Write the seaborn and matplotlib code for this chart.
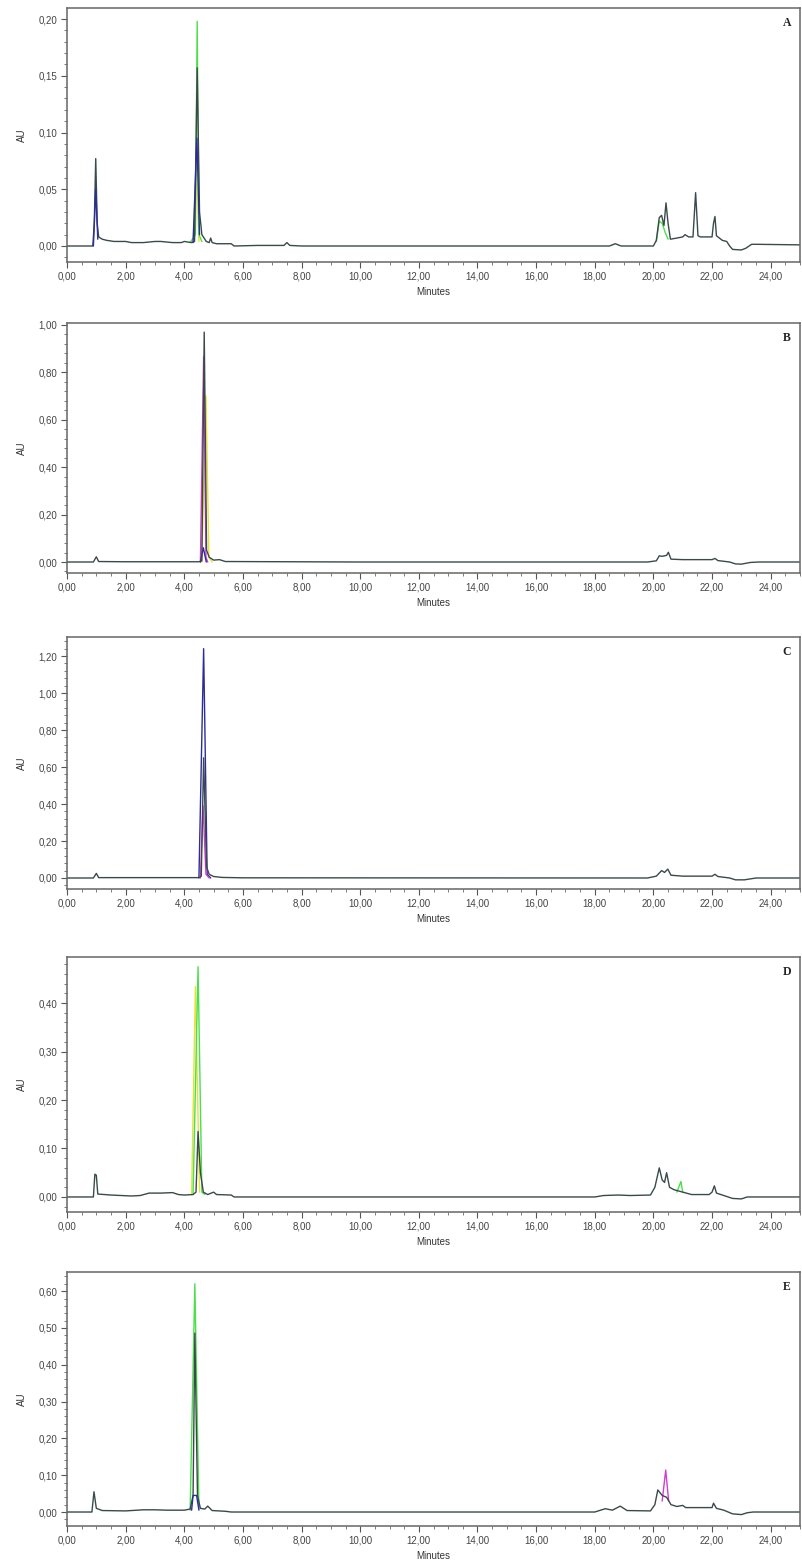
import matplotlib
matplotlib.use("Agg")
import pandas as pd
import matplotlib.pyplot as plt
import seaborn as sns
from matplotlib.ticker import MultipleLocator, AutoMinorLocator, FuncFormatter

# -------------------------
# Chromatogram traces (time in min, absorbance in AU)
# -------------------------
a_dark = [(0, 0), (0.88, 0), (0.93, 0.02), (0.98, 0.077), (1.03, 0.02), (1.08, 0.008),
          (1.2, 0.006), (1.35, 0.005), (1.6, 0.004), (2.0, 0.004), (2.2, 0.003), (2.6, 0.003),
          (3.0, 0.004), (3.2, 0.004), (3.4, 0.0035), (3.6, 0.003), (3.9, 0.003), (4.0, 0.004),
          (4.25, 0.003), (4.35, 0.004), (4.44, 0.157), (4.52, 0.03), (4.6, 0.01), (4.75, 0.004),
          (4.85, 0.003), (4.9, 0.007), (4.95, 0.003), (5.1, 0.002), (5.6, 0.002), (5.7, 0.0),
          (6.5, 0.0005), (7.4, 0.0005), (7.5, 0.003), (7.6, 0.0005), (8.0, 0.0), (18.5, 0.0),
          (18.7, 0.002), (18.9, 0.0), (20.0, 0.0), (20.1, 0.005), (20.2, 0.025), (20.28, 0.027),
          (20.36, 0.018), (20.43, 0.038), (20.5, 0.02), (20.58, 0.006), (20.8, 0.007),
          (21.0, 0.008), (21.08, 0.01), (21.2, 0.008), (21.35, 0.008), (21.44, 0.047),
          (21.52, 0.009), (21.6, 0.008), (22.0, 0.008), (22.05, 0.02), (22.1, 0.026),
          (22.15, 0.009), (22.25, 0.007), (22.35, 0.005), (22.5, 0.004), (22.6, 0.0),
          (22.7, -0.003), (23.0, -0.0035), (23.15, -0.002), (23.35, 0.0015), (23.5, 0.0015),
          (25, 0.001)]
a_green = [(4.2, 0.003), (4.38, 0.01), (4.44, 0.198), (4.5, 0.01), (4.6, 0.004)]
a_green2 = [(20.1, 0.004), (20.2, 0.022), (20.3, 0.02), (20.4, 0.012), (20.5, 0.006)]
a_yellow = [(4.3, 0.003), (4.41, 0.07), (4.5, 0.004)]
a_blue = [(4.3, 0.003), (4.43, 0.095), (4.52, 0.01)]
a_blue2 = [(0.9, 0.0), (0.98, 0.05), (1.05, 0.006)]

b_dark = [(0, 0), (0.9, 0), (1.0, 0.022), (1.08, 0.002), (2.0, 0.001), (4.5, 0.001),
          (4.6, 0.005), (4.68, 0.97), (4.76, 0.05), (4.85, 0.02), (5.0, 0.008), (5.2, 0.01),
          (5.4, 0.002), (10.0, 0.0), (19.8, 0.0), (20.1, 0.005), (20.2, 0.026), (20.3, 0.024),
          (20.45, 0.028), (20.51, 0.041), (20.6, 0.012), (21.0, 0.01), (22.0, 0.01),
          (22.1, 0.015), (22.2, 0.006), (22.6, 0.0), (22.8, -0.008), (23.0, -0.009),
          (23.3, -0.002), (23.6, 0.0), (25, 0.0)]
b_magenta = [(4.55, 0.0), (4.66, 0.866), (4.74, 0.02), (4.8, 0.0)]
b_yellow = [(4.6, 0.0), (4.74, 0.7), (4.84, 0.02), (4.95, 0.0)]
b_blue = [(4.55, 0.0), (4.65, 0.06), (4.75, 0.0)]

c_dark = [(0, 0), (0.9, 0), (1.0, 0.025), (1.08, 0.002), (4.5, 0.002), (4.58, 0.01),
          (4.66, 0.65), (4.76, 0.06), (4.85, 0.02), (5.0, 0.008), (5.3, 0.003), (6.0, 0.001),
          (19.8, 0.0), (20.1, 0.01), (20.28, 0.04), (20.38, 0.03), (20.49, 0.048),
          (20.6, 0.015), (21.0, 0.01), (22.0, 0.01), (22.1, 0.02), (22.2, 0.008), (22.6, 0.0),
          (22.8, -0.01), (23.1, -0.01), (23.5, 0.0), (25, 0.0)]
c_blue = [(4.5, 0.0), (4.66, 1.24), (4.78, 0.02), (4.9, 0.0)]
c_magenta = [(4.55, 0.0), (4.64, 0.39), (4.74, 0.02), (4.85, 0.0)]

d_dark = [(0, 0), (0.9, 0), (0.95, 0.047), (1.0, 0.045), (1.05, 0.006), (1.5, 0.004),
          (2.2, 0.002), (2.5, 0.003), (2.8, 0.008), (3.2, 0.008), (3.6, 0.009), (3.8, 0.005),
          (4.0, 0.004), (4.3, 0.005), (4.4, 0.01), (4.47, 0.135), (4.55, 0.05), (4.65, 0.01),
          (4.8, 0.005), (5.0, 0.01), (5.1, 0.005), (5.6, 0.004), (5.7, 0.0), (18.0, 0.0),
          (18.3, 0.003), (18.8, 0.004), (19.2, 0.003), (19.9, 0.004), (20.05, 0.02),
          (20.2, 0.06), (20.3, 0.035), (20.38, 0.03), (20.45, 0.05), (20.55, 0.02),
          (20.7, 0.015), (21.0, 0.01), (21.3, 0.005), (21.9, 0.005), (22.0, 0.01),
          (22.08, 0.023), (22.15, 0.008), (22.4, 0.003), (22.7, -0.003), (23.0, -0.004),
          (23.2, 0.0), (25, 0.0)]
d_green = [(4.3, 0.005), (4.47, 0.475), (4.6, 0.01), (4.7, 0.005)]
d_green2 = [(20.8, 0.01), (20.94, 0.032), (21.0, 0.01)]
d_yellow = [(4.25, 0.005), (4.38, 0.434), (4.52, 0.01)]

e_dark = [(0, 0), (0.85, 0), (0.92, 0.055), (1.0, 0.01), (1.2, 0.004), (2.0, 0.003),
          (2.6, 0.006), (3.0, 0.006), (3.4, 0.005), (4.0, 0.005), (4.2, 0.008), (4.3, 0.045),
          (4.36, 0.486), (4.45, 0.045), (4.55, 0.01), (4.7, 0.008), (4.8, 0.016),
          (4.95, 0.004), (5.4, 0.002), (5.6, 0.0), (18.0, 0.0), (18.36, 0.009), (18.6, 0.005),
          (18.87, 0.016), (19.1, 0.004), (19.9, 0.003), (20.05, 0.02), (20.15, 0.06),
          (20.3, 0.045), (20.45, 0.04), (20.6, 0.02), (20.8, 0.015), (21.0, 0.018),
          (21.1, 0.012), (22.0, 0.012), (22.05, 0.024), (22.15, 0.01), (22.4, 0.005),
          (22.7, -0.005), (23.0, -0.007), (23.2, -0.002), (23.4, 0.0), (25, 0.0)]
e_green = [(4.2, 0.005), (4.36, 0.62), (4.5, 0.01)]
e_magenta = [(20.3, 0.03), (20.42, 0.114), (20.52, 0.03)]
e_blue = [(4.25, 0.005), (4.3, 0.045), (4.42, 0.045), (4.5, 0.005)]

labels = ["A", "B", "C", "D", "E"]
y_step = [0.05, 0.20, 0.20, 0.10, 0.10]
y_lims = [(-0.0141, 0.2097), (-0.0464, 1.0084), (-0.0595, 1.303), (-0.031, 0.495), (-0.038, 0.652)]

colors = {"dark": "#3a4a4a", "green": "#4be04b", "yellow": "#e6e23a",
          "blue": "#2c2c9c", "magenta": "#d23cd2"}

panels = [
    [(a_yellow, "yellow"), (a_green, "green"), (a_green2, "green"), (a_dark, "dark"),
     (a_blue, "blue"), (a_blue2, "blue")],
    [(b_yellow, "yellow"), (b_magenta, "magenta"), (b_blue, "blue"), (b_dark, "dark")],
    [(c_blue, "blue"), (c_magenta, "magenta"), (c_dark, "dark")],
    [(d_yellow, "yellow"), (d_green, "green"), (d_green2, "green"), (d_dark, "dark")],
    [(e_green, "green"), (e_magenta, "magenta"), (e_dark, "dark"), (e_blue, "blue")],
]

# pixel boxes of each panel (top, bottom) in an 802x1566 figure
boxes = [(8, 262), (323, 573), (637, 889), (957, 1212), (1272, 1526)]

sns.set_style("ticks")
plt.rcParams["font.family"] = ["Liberation Sans", "DejaVu Sans"]

W, H = 802, 1566
fig = plt.figure(figsize=(W / 100, H / 100), dpi=100)
comma = FuncFormatter(lambda v, p: f"{v:.2f}".replace(".", ","))

for i, (top, bot) in enumerate(boxes):
    ax = fig.add_axes([67 / W, 1 - bot / H, 733 / W, (bot - top) / H])
    for pts, c in panels[i]:
        df = pd.DataFrame(pts, columns=["t", "au"])
        sns.lineplot(data=df, x="t", y="au", ax=ax, color=colors[c], lw=1.0,
                     estimator=None, sort=False)
    ax.set_xlim(0, 25)
    ax.set_ylim(*y_lims[i])
    ax.xaxis.set_major_locator(MultipleLocator(2))
    ax.xaxis.set_minor_locator(MultipleLocator(0.5))
    ax.yaxis.set_major_locator(MultipleLocator(y_step[i]))
    ax.yaxis.set_minor_locator(AutoMinorLocator(5))
    ax.xaxis.set_major_formatter(comma)
    ax.yaxis.set_major_formatter(comma)
    ax.tick_params(which="major", length=4, width=0.8, color="#555", labelsize=7,
                   labelcolor="#444", pad=3)
    ax.tick_params(which="minor", length=2.5, width=0.6, color="#666")
    for s in ax.spines.values():
        s.set_color("#666")
        s.set_linewidth(1.1)
    ax.set_xlabel("Minutes", fontsize=7, color="#333", labelpad=4)
    ax.set_ylabel("AU", fontsize=7, color="#333", labelpad=8)
    ax.text(0.982, 0.94, labels[i], transform=ax.transAxes, ha="center", va="center",
            fontsize=8.5, fontweight="bold", family="Liberation Serif", color="#222")

fig.savefig("out.png", dpi=100)
